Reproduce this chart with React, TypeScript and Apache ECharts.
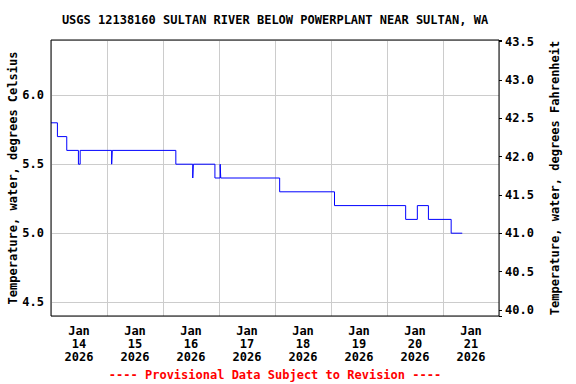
import React, { useEffect, useRef } from "react";
import * as echarts from "echarts";

const TITLE = "USGS 12138160 SULTAN RIVER BELOW POWERPLANT NEAR SULTAN, WA";
const FOOTER = "---- Provisional Data Subject to Revision ----";
const LEFT_NAME = "Temperature, water, degrees Celsius";
const RIGHT_NAME = "Temperature, water, degrees Fahrenheit";

const dayLabels = ["14", "15", "16", "17", "18", "19", "20", "21"];
const monthLabel = "Jan";
const yearLabel = "2026";

// Change points of the step series (local time, value holds until next point)
const times = [
  "2026-01-14 00:00",
  "2026-01-14 02:45",
  "2026-01-14 06:45",
  "2026-01-14 11:45",
  "2026-01-14 12:30",
  "2026-01-15 02:00",
  "2026-01-15 02:15",
  "2026-01-16 05:30",
  "2026-01-16 12:45",
  "2026-01-16 13:00",
  "2026-01-16 22:15",
  "2026-01-17 00:30",
  "2026-01-17 00:45",
  "2026-01-18 02:00",
  "2026-01-19 01:30",
  "2026-01-20 08:00",
  "2026-01-20 13:00",
  "2026-01-20 17:45",
  "2026-01-21 03:30",
  "2026-01-21 08:15",
];
const tempC = [
  5.8, 5.7, 5.6, 5.5, 5.6, 5.5, 5.6, 5.5, 5.4, 5.5, 5.4, 5.5, 5.4, 5.3, 5.2,
  5.1, 5.2, 5.1, 5.0, 5.0,
];

const C_MIN = 4.4;
const C_MAX = 6.4;

const FONT = "DejaVu Sans Mono";

const GRID_LEFT = 51;
const GRID_TOP = 40;
const GRID_W = 448;
const GRID_H = 276;

function toHours(s: string): number {
  const day = parseInt(s.slice(8, 10), 10);
  const hh = parseInt(s.slice(11, 13), 10);
  const mm = parseInt(s.slice(14, 16), 10);
  return (day - 14) * 24 + hh + mm / 60;
}

function halfLabel(v: number): string {
  const r = Math.round(v * 2) / 2;
  return Math.abs(v - r) < 1e-6 ? r.toFixed(1) : "";
}

export default function App() {
  const ref = useRef<HTMLDivElement>(null);

  useEffect(() => {
    if (!ref.current) return;
    const chart = echarts.init(ref.current, null, { renderer: "svg" });
    const data = times.map((t, i) => [toHours(t), tempC[i]]);
    const cats = dayLabels.map((d) => `${monthLabel}\n${d}\n${yearLabel}`);
    const textBase = {
      fontFamily: FONT,
      fontWeight: "bold" as const,
      fontSize: 12,
      color: "#000",
    };

    chart.setOption({
      animation: false,
      backgroundColor: "#fff",
      grid: {
        left: GRID_LEFT,
        top: GRID_TOP,
        width: GRID_W,
        height: GRID_H,
        containLabel: false,
        outerBoundsMode: "none",
        show: false,
      },
      xAxis: [
        {
          type: "value",
          position: "bottom",
          min: 0,
          max: 192,
          interval: 24,
          axisLine: { show: false },
          axisTick: { show: false },
          axisLabel: { show: false },
          splitLine: { show: true, lineStyle: { color: "#cccccc", width: 1 } },
        },
        {
          type: "category",
          position: "bottom",
          data: cats,
          boundaryGap: true,
          axisLine: { show: false },
          axisTick: { show: false },
          splitLine: { show: false },
          axisLabel: {
            ...textBase,
            margin: 8,
            lineHeight: 13,
            interval: 0,
          },
        },
      ],
      yAxis: [
        {
          type: "value",
          position: "left",
          min: C_MIN,
          max: C_MAX,
          splitNumber: 4,
          axisLine: { show: false },
          axisTick: { show: false },
          axisLabel: { ...textBase, margin: 7, formatter: halfLabel },
          splitLine: { show: true, lineStyle: { color: "#cccccc", width: 1 } },
          name: LEFT_NAME,
          nameLocation: "middle",
          nameRotate: 90,
          nameGap: 32,
          nameMoveOverlap: false,
          nameTextStyle: { ...textBase },
        },
        {
          type: "value",
          position: "right",
          min: C_MIN * 1.8 + 32,
          max: C_MAX * 1.8 + 32,
          splitNumber: 7,
          axisLine: { show: false },
          axisTick: {
            show: true,
            inside: false,
            length: 3,
            lineStyle: { color: "#000", width: 1 },
          },
          axisLabel: { ...textBase, margin: 6, formatter: halfLabel },
          splitLine: { show: false },
          name: RIGHT_NAME,
          nameLocation: "middle",
          nameRotate: 90,
          nameGap: 50,
          nameMoveOverlap: false,
          nameTextStyle: { ...textBase },
        },
      ],
      graphic: [
        {
          type: "rect",
          z: 100,
          shape: { x: GRID_LEFT, y: GRID_TOP, width: GRID_W, height: GRID_H },
          style: { fill: "none", stroke: "#000", lineWidth: 1 },
          silent: true,
        },
        {
          type: "text",
          x: 275,
          y: 20,
          style: {
            text: TITLE,
            fill: "#000",
            font: `bold 12px "${FONT}"`,
            textAlign: "center",
            textVerticalAlign: "middle",
          },
        },
        {
          type: "text",
          x: 275,
          y: 375,
          style: {
            text: FOOTER,
            fill: "#ff0000",
            font: `bold 12px "${FONT}"`,
            textAlign: "center",
            textVerticalAlign: "middle",
          },
        },
      ],
      series: [
        {
          type: "line",
          xAxisIndex: 0,
          yAxisIndex: 0,
          data,
          step: "end",
          showSymbol: false,
          lineStyle: { color: "#0000ff", width: 1 },
          itemStyle: { color: "#0000ff" },
        },
      ],
    });

    return () => chart.dispose();
  }, []);

  return (
    <div
      ref={ref}
      style={{
        position: "fixed",
        left: 0,
        top: 0,
        width: 576,
        height: 384,
        background: "#fff",
      }}
    />
  );
}
